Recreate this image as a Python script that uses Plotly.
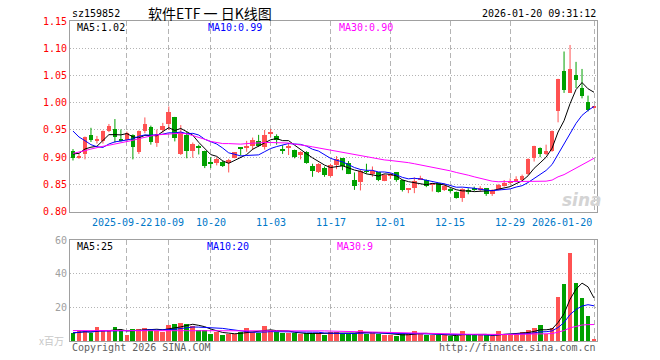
import plotly.graph_objects as go
import numpy as np
import pandas as pd

# ---------------- data ----------------
dates = (
    ["2025-09-%02d" % d for d in [9, 10, 11, 12, 15, 16, 17, 18, 19, 22, 23, 24, 25, 26, 29, 30]]
    + ["2025-10-%02d" % d for d in [9, 10, 13, 14, 15, 16, 17, 20, 21, 22, 23, 24, 27, 28, 29, 30, 31]]
    + ["2025-11-%02d" % d for d in [3, 4, 5, 6, 7, 10, 11, 12, 13, 14, 17, 18, 19, 20, 21, 24, 25, 26, 27, 28]]
    + ["2025-12-%02d" % d for d in [1, 2, 3, 4, 5, 8, 9, 10, 11, 12, 15, 16, 17, 18, 19, 22, 23, 24, 25, 26, 29, 30, 31]]
    + ["2026-01-%02d" % d for d in [5, 6, 7, 8, 9, 12, 13, 14, 15, 16, 19, 20]]
)

open_ = [0.912, 0.900, 0.906, 0.940, 0.931, 0.929, 0.948, 0.952, 0.934, 0.932,
         0.941, 0.909, 0.949, 0.955, 0.927, 0.950, 0.961, 0.974, 0.906, 0.941,
         0.912, 0.920, 0.912, 0.891, 0.890, 0.891, 0.889, 0.899, 0.917, 0.918,
         0.920, 0.930, 0.918, 0.944, 0.939, 0.914, 0.917, 0.914, 0.904, 0.909,
         0.883, 0.872, 0.880, 0.866, 0.886, 0.898, 0.890, 0.858, 0.855, 0.874,
         0.870, 0.872, 0.857, 0.867, 0.872, 0.858, 0.840, 0.843, 0.859, 0.858,
         0.849, 0.852, 0.840, 0.840, 0.836, 0.825, 0.838, 0.842, 0.841, 0.843,
         0.832, 0.840, 0.848, 0.852, 0.855, 0.858, 0.869, 0.898, 0.917, 0.906,
         0.912, 0.984, 1.059, 1.018, 1.050, 1.027, 1.002, 0.991]
high = [0.915, 0.906, 0.938, 0.954, 0.939, 0.949, 0.961, 0.970, 0.951, 0.947,
        0.942, 0.949, 0.973, 0.958, 0.951, 0.963, 0.993, 0.974, 0.959, 0.947,
        0.927, 0.923, 0.912, 0.900, 0.900, 0.894, 0.897, 0.909, 0.917, 0.930,
        0.936, 0.941, 0.950, 0.952, 0.942, 0.922, 0.926, 0.914, 0.911, 0.911,
        0.888, 0.889, 0.883, 0.888, 0.902, 0.898, 0.893, 0.872, 0.878, 0.888,
        0.883, 0.872, 0.869, 0.871, 0.872, 0.859, 0.843, 0.863, 0.866, 0.859,
        0.852, 0.853, 0.852, 0.844, 0.837, 0.843, 0.843, 0.846, 0.847, 0.843,
        0.841, 0.851, 0.858, 0.861, 0.865, 0.868, 0.898, 0.921, 0.918, 0.923,
        0.949, 1.044, 1.094, 1.106, 1.075, 1.062, 1.013, 0.994]
low = [0.894, 0.897, 0.896, 0.928, 0.925, 0.925, 0.946, 0.927, 0.929, 0.928,
       0.896, 0.906, 0.944, 0.923, 0.919, 0.945, 0.950, 0.929, 0.904, 0.898,
       0.899, 0.905, 0.880, 0.880, 0.885, 0.882, 0.872, 0.898, 0.903, 0.910,
       0.913, 0.919, 0.914, 0.937, 0.923, 0.906, 0.904, 0.898, 0.896, 0.888,
       0.864, 0.871, 0.864, 0.864, 0.878, 0.876, 0.869, 0.840, 0.839, 0.870,
       0.864, 0.856, 0.856, 0.860, 0.855, 0.837, 0.834, 0.834, 0.859, 0.845,
       0.837, 0.835, 0.838, 0.835, 0.824, 0.818, 0.832, 0.838, 0.838, 0.829,
       0.829, 0.839, 0.846, 0.850, 0.854, 0.857, 0.867, 0.892, 0.900, 0.904,
       0.910, 0.964, 1.018, 1.018, 1.027, 1.008, 0.984, 0.989]
close = [0.898, 0.901, 0.937, 0.932, 0.932, 0.948, 0.958, 0.937, 0.930, 0.944,
         0.918, 0.948, 0.961, 0.928, 0.942, 0.957, 0.983, 0.935, 0.947, 0.912,
         0.925, 0.917, 0.883, 0.887, 0.896, 0.883, 0.895, 0.909, 0.916, 0.921,
         0.932, 0.921, 0.941, 0.945, 0.932, 0.913, 0.921, 0.900, 0.909, 0.889,
         0.875, 0.888, 0.867, 0.886, 0.896, 0.884, 0.869, 0.847, 0.874, 0.873,
         0.875, 0.858, 0.867, 0.870, 0.858, 0.839, 0.842, 0.857, 0.862, 0.847,
         0.852, 0.837, 0.848, 0.839, 0.826, 0.841, 0.837, 0.841, 0.843, 0.833,
         0.840, 0.849, 0.852, 0.856, 0.860, 0.866, 0.896, 0.920, 0.906, 0.912,
         0.949, 1.044, 1.024, 1.062, 1.042, 1.013, 0.987, 0.992]
# volume, x 百万
volume = [4.8, 5.9, 5.9, 4.8, 8.3, 5.9, 5.9, 8.3, 5.9, 3.8,
          6.9, 6.9, 7.9, 7.3, 5.9, 5.3, 9.5, 10.3, 10.9, 10.1,
          8.9, 6.3, 6.3, 4.0, 5.3, 3.4, 4.4, 4.4, 5.3, 7.5,
          5.3, 4.8, 8.7, 6.7, 5.3, 4.6, 4.6, 4.6, 4.0, 4.6,
          4.6, 4.6, 3.6, 5.3, 5.3, 4.0, 4.0, 5.0, 6.7, 4.4,
          4.8, 4.0, 3.4, 3.4, 3.0, 4.4, 4.4, 6.1, 4.4, 3.4,
          3.4, 3.4, 3.4, 3.0, 3.0, 6.1, 3.4, 3.4, 3.4, 3.4,
          2.8, 5.8, 4.4, 4.4, 4.4, 5.2, 6.8, 7.6, 9.3, 4.4,
          7.6, 26.0, 34.0, 52.0, 34.5, 25.5, 14.8, 1.0]
# closes before the visible window (estimated from where MA5 / MA10 start)
pre_close = [1.010, 1.005, 1.005, 0.970, 0.960, 0.896, 0.897, 0.915, 0.924]
# MA30 lines (their history lies outside the window)
ma30 = [0.907, 0.909, 0.912, 0.915, 0.918, 0.920, 0.922, 0.924, 0.926, 0.929,
        0.931, 0.934, 0.937, 0.939, 0.941, 0.942, 0.943, 0.944, 0.944, 0.943,
        0.940, 0.937, 0.933, 0.929, 0.927, 0.925, 0.925, 0.924, 0.924, 0.925,
        0.926, 0.927, 0.927, 0.927, 0.927, 0.926, 0.926, 0.924, 0.923, 0.921,
        0.919, 0.917, 0.915, 0.913, 0.911, 0.908, 0.906, 0.904, 0.902, 0.900,
        0.899, 0.897, 0.895, 0.894, 0.893, 0.891, 0.890, 0.888, 0.886, 0.884,
        0.882, 0.879, 0.877, 0.875, 0.872, 0.870, 0.867, 0.864, 0.861, 0.858,
        0.856, 0.855, 0.855, 0.855, 0.855, 0.855, 0.855, 0.855, 0.855, 0.856,
        0.858, 0.864, 0.868, 0.874, 0.880, 0.886, 0.892, 0.898]
vol_ma30 = [6.2, 6.2, 6.2, 6.2, 6.2, 6.2, 6.2, 6.2, 6.1, 6.1,
            6.1, 6.1, 6.1, 6.1, 6.1, 6.1, 6.2, 6.2, 6.2, 6.3,
            6.3, 6.3, 6.3, 6.3, 6.3, 6.3, 6.3, 6.3, 6.3, 6.4,
            6.4, 6.4, 6.4, 6.4, 6.4, 6.4, 6.3, 6.3, 6.3, 6.3,
            6.2, 6.1, 6.0, 5.9, 5.8, 5.7, 5.6, 5.5, 5.4, 5.3,
            5.3, 5.2, 5.1, 5.0, 5.0, 4.9, 4.9, 4.8, 4.8, 4.7,
            4.6, 4.5, 4.4, 4.3, 4.2, 4.1, 4.0, 4.0, 3.9, 3.9,
            3.9, 3.9, 3.9, 3.9, 3.9, 3.9, 4.0, 4.1, 4.2, 4.3,
            4.4, 5.1, 6.2, 7.8, 8.8, 9.5, 9.7, 9.8]

tick_dates = ["2025-09-22", "2025-10-09", "2025-10-20", "2025-11-03", "2025-11-17",
              "2025-12-01", "2025-12-15", "2025-12-29", "2026-01-20"]
tick_text = ["2025-09-22", "10-09", "10-20", "11-03", "11-17", "12-01", "12-15", "12-29", "2026-01-20"]
price_ticks = [0.80, 0.85, 0.90, 0.95, 1.00, 1.05, 1.10, 1.15]
vol_ticks = [20, 40, 60]

# ---------------- derived ----------------
n = len(dates)
x = list(range(n))
cl_all = np.array(pre_close + close)
ma5 = np.convolve(cl_all, np.ones(5) / 5, mode="valid")[-n:]
ma10 = np.convolve(cl_all, np.ones(10) / 10, mode="valid")[-n:]
vs = pd.Series(volume)
vma5 = vs.rolling(5, min_periods=1).mean().values
vma10 = vs.rolling(10, min_periods=1).mean().values

RED = "#ff5252"
GREEN = "#00a000"
up = [c >= o for o, c in zip(open_, close)]
colors = [RED if u else GREEN for u in up]
tick_idx = [dates.index(d) for d in tick_dates]

fig = go.Figure()

# wicks
for flag, col in [(True, RED), (False, GREEN)]:
    wx, wy = [], []
    for i in x:
        if up[i] == flag:
            wx += [i, i, None]
            wy += [low[i], high[i], None]
    fig.add_trace(go.Scatter(x=wx, y=wy, mode="lines", line=dict(color=col, width=1),
                             xaxis="x", yaxis="y", hoverinfo="skip"))

# bodies
base = [min(o, c) for o, c in zip(open_, close)]
hgt = [max(abs(c - o), 0.0015) for o, c in zip(open_, close)]
fig.add_trace(go.Bar(x=x, y=hgt, base=base, width=0.78, marker=dict(color=colors, line=dict(width=0)),
                     xaxis="x", yaxis="y"))

# price MAs
for arr, col in [(ma5, "#000000"), (ma10, "#0000ff"), (ma30, "#ff00ff")]:
    fig.add_trace(go.Scatter(x=x, y=arr, mode="lines", line=dict(color=col, width=1),
                             xaxis="x", yaxis="y", hoverinfo="skip"))

# volume bars
fig.add_trace(go.Bar(x=x, y=volume, width=0.8, marker=dict(color=colors, line=dict(width=0)),
                     xaxis="x2", yaxis="y2"))
for arr, col in [(vma5, "#000000"), (vma10, "#0000ff"), (vol_ma30, "#ff00ff")]:
    fig.add_trace(go.Scatter(x=x, y=arr, mode="lines", line=dict(color=col, width=1),
                             xaxis="x2", yaxis="y2", hoverinfo="skip"))

MONO = "DejaVu Sans Mono"
GRID = "#b4b4b4"
BORDER = "#a0a0a0"
xcommon = dict(range=[-0.5, n - 0.5], tickvals=tick_idx, showticklabels=False, ticks="",
               showgrid=True, gridcolor=GRID, griddash="5px,3px", gridwidth=1,
               showline=True, mirror=True, linecolor=BORDER, linewidth=1, zeroline=False)

fig.update_layout(
    width=660, height=360,
    margin=dict(l=70, r=63, t=21, b=19),
    paper_bgcolor="white", plot_bgcolor="white",
    showlegend=False, barmode="overlay", bargap=0,
    xaxis=dict(anchor="y", **xcommon),
    xaxis2=dict(anchor="y2", matches="x", **xcommon),
    yaxis=dict(domain=[0.4041, 1.0], range=[0.80, 1.15], tickvals=price_ticks,
               ticktext=["%.2f" % v for v in price_ticks], ticks="",
               tickfont=dict(family=MONO, size=10, color="#ff0000"),
               showgrid=True, gridcolor=GRID, griddash="1px,2px", gridwidth=1,
               showline=True, mirror=True, linecolor=BORDER, linewidth=1, zeroline=False),
    yaxis2=dict(domain=[0.0, 0.3156], range=[0, 60], tickvals=vol_ticks,
                ticktext=[str(v) for v in vol_ticks], ticks="",
                tickfont=dict(family=MONO, size=10, color="#a0a0a0"),
                showgrid=True, gridcolor=GRID, griddash="1px,2px", gridwidth=1,
                showline=True, mirror=True, linecolor=BORDER, linewidth=1, zeroline=False),
)


def py(p):
    # pixel row -> paper y
    return (341 - p) / 320.0


def px(p):
    return (p - 70) / 527.0


ann = []


def txt(text, x, y, xanchor="left", color="#000000", size=10, family=MONO, xref="paper", xshift=0):
    ann.append(dict(text=text, x=x, y=y, xref=xref, yref="paper", xanchor=xanchor, xshift=xshift,
                    yanchor="middle", showarrow=False, font=dict(family=family, size=size, color=color)))


txt("sz159852", px(70), py(13))
txt("软件ETF 一 日K线图", px(210), py(13), xanchor="center", size=14, family="Noto Sans CJK SC")
txt("2026-01-20 09:31:12", px(598), py(13), xanchor="right")

txt("MA5:%.2f" % ma5[-1], px(75), py(27), color="#000000")
txt("MA10:%.2f" % ma10[-1], px(206), py(27), color="#0000ff")
txt("MA30:%.2f" % ma30[-1], px(337), py(27), color="#ff00ff")

txt("MA5:%d" % int(vma5[-1]), px(75), py(246.5), color="#000000")
txt("MA10:%d" % int(vma10[-1]), px(205), py(246.5), color="#0000ff")
txt("MA30:%d" % int(vol_ma30[-1]), px(335), py(246.5), color="#ff00ff")

for k, (ti, tt) in enumerate(zip(tick_idx, tick_text)):
    if k == len(tick_idx) - 1:
        txt(tt, ti, py(222), xanchor="right", color="#0078c8", xref="x")
    elif k == 0:
        txt(tt, ti, py(222), xanchor="center", color="#0078c8", xref="x", xshift=-5)
    else:
        txt(tt, ti, py(222), xanchor="center", color="#0078c8", xref="x")

txt("x百万", px(66), py(340.5), xanchor="right", color="#c8c8c8", size=10, family="Noto Sans CJK SC")
txt("Copyright 2026 SINA.COM", px(70), py(347.5), color="#606060")
txt("http://finance.sina.com.cn", px(597.5), py(347.5), xanchor="right", color="#606060")
txt("<b><i>sina</i></b>", px(582), py(200), xanchor="center", color="#d4d4d4", size=17,
    family="DejaVu Sans")

fig.update_layout(annotations=ann)
fig.write_html("out.html", config={"displayModeBar": False},
               post_script="document.body.style.margin='0px';")
